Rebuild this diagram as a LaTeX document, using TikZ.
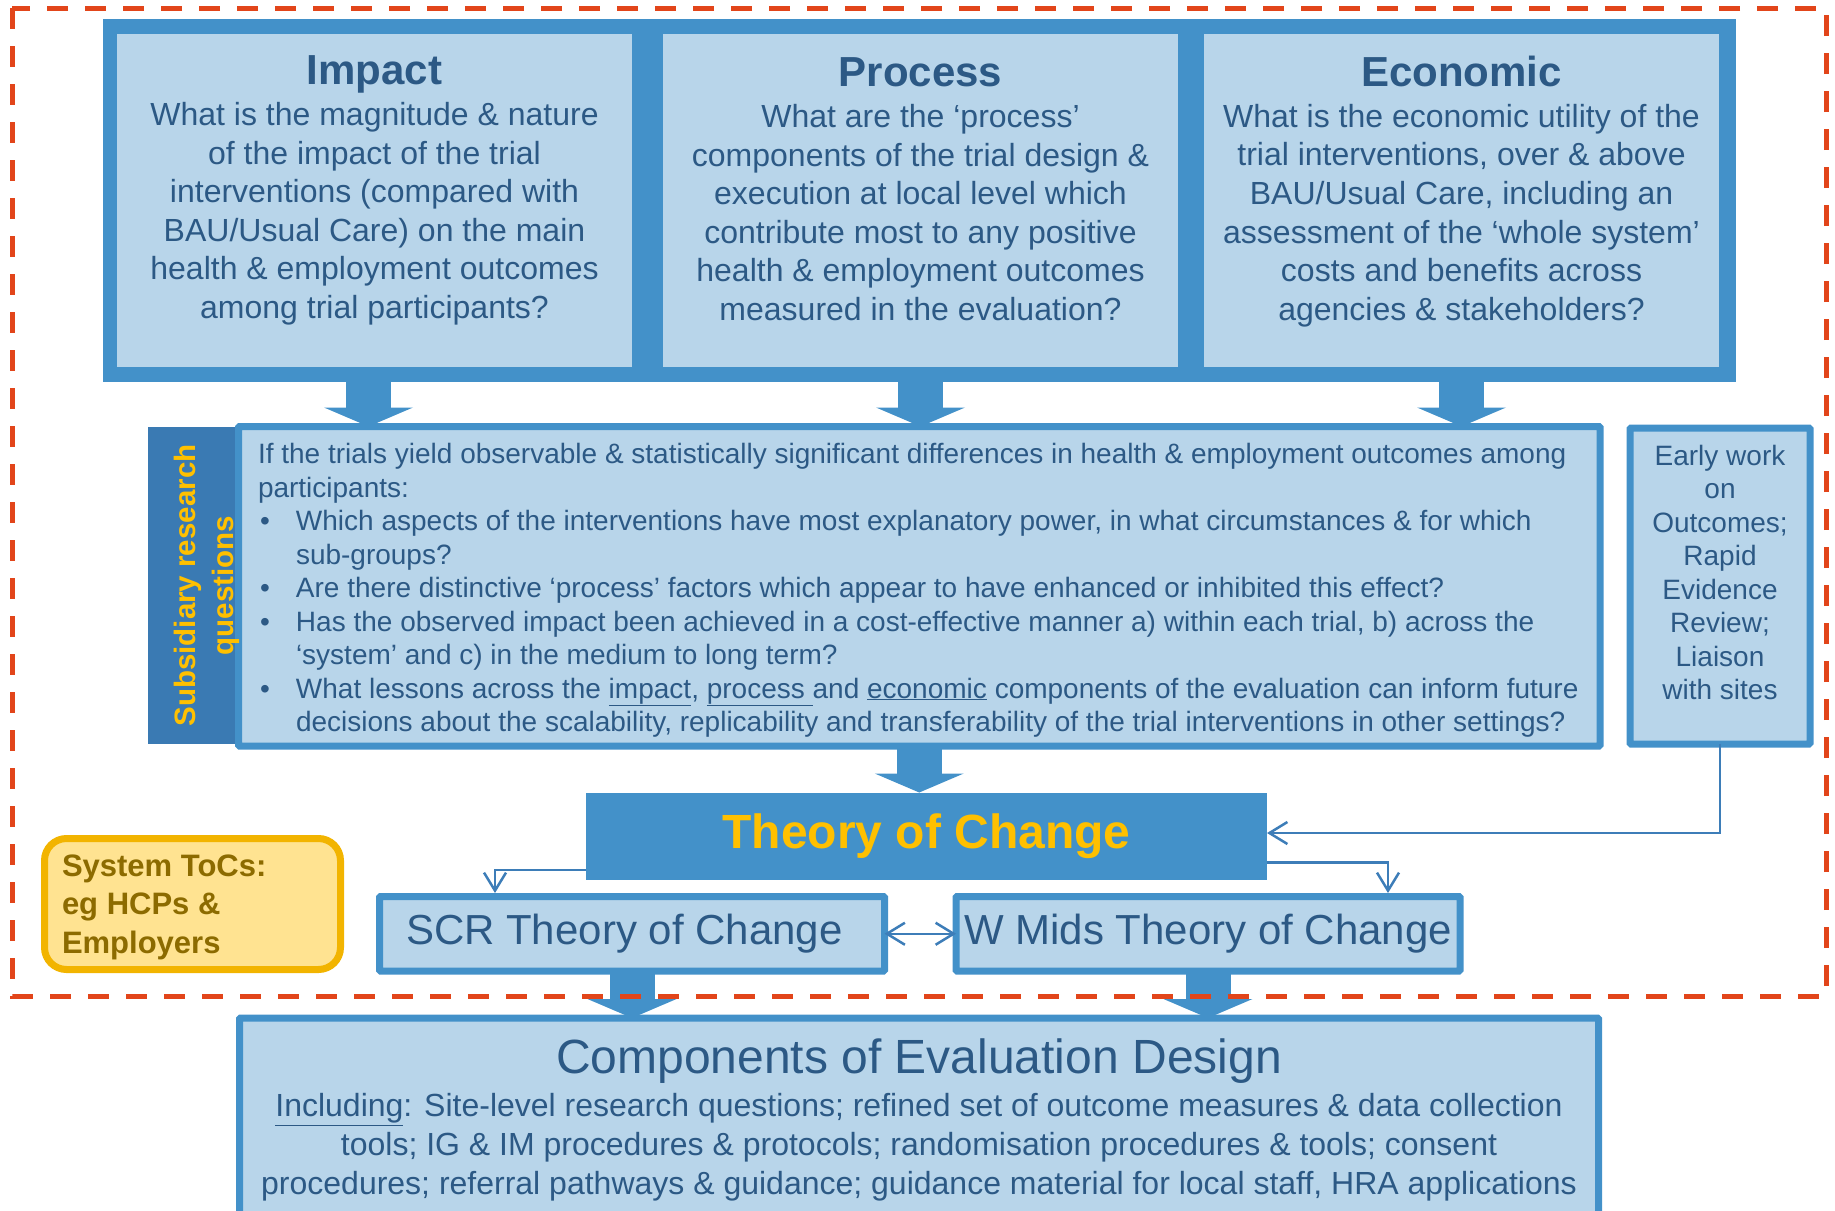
\documentclass[tikz,border=0pt]{standalone}
\usepackage{fontspec}
\setmainfont{Liberation Sans}
\usetikzlibrary{arrows.meta,calc,positioning}
\tikzset{>={Straight Barb[length=18pt,width=22pt]}}
\definecolor{boxblue}{HTML}{4391C9}
\definecolor{paleblue}{HTML}{B8D5EA}
\definecolor{sideblue}{HTML}{3A7AB3}
\definecolor{inkblue}{HTML}{2C5985}
\definecolor{linkblue}{HTML}{3D7DB8}
\definecolor{tocgold}{HTML}{FFC000}
\definecolor{dashred}{HTML}{E2451A}
\definecolor{notefill}{HTML}{FFE391}
\definecolor{noteedge}{HTML}{F2B400}
\definecolor{notetext}{HTML}{8C6B00}
\newcommand{\fs}[2]{\fontsize{#1}{#2}\selectfont}
\newcommand{\qbul}{\makebox[38pt][l]{\hspace{2pt}\textbullet}}
\newcommand{\qind}{\hspace*{38pt}}

\begin{document}
\begin{tikzpicture}[x=1pt,y=-1pt,
    lightbox/.style={draw=boxblue,line width=7pt,fill=paleblue,rounded corners=1pt},
    qtext/.style={text=inkblue,align=center,font=\fs{32}{38.6}},
    fat/.style={draw=boxblue,line width=45pt,-{Triangle[length=19pt,width=89pt,line width=0pt]}},
    link/.style={draw=linkblue,line width=2.5pt,->}]
\path[use as bounding box,clip] (0,0) rectangle (1835,1210);

% the three main questions
\begin{scope}[every node/.style={inner sep=0pt,outer sep=0pt}]
\node[fill=boxblue,minimum width=1633pt,minimum height=363pt] (trio) at (919.5,200.5) {};
\node[fill=paleblue,minimum width=515pt,minimum height=333pt] (impact) at (374.5,200.5) {};
\node[fill=paleblue,minimum width=515pt,minimum height=333pt] (process) at (920.5,200.5) {};
\node[fill=paleblue,minimum width=515pt,minimum height=333pt] (economic) at (1461.5,200.5) {};
\node[qtext] at ([yshift=10pt]impact.center) {{\fs{42}{44}\bfseries Impact}\\[2pt]
  What is the magnitude \& nature\\ of the impact of the trial\\ interventions (compared with\\
  BAU/Usual Care) on the main\\ health \& employment outcomes\\ among trial participants?};
\node[qtext] at ([yshift=11pt]process.center) {{\fs{42}{44}\bfseries Process}\\[2pt]
  What are the ‘process’\\ components of the trial design \&\\ execution at local level which\\
  contribute most to any positive\\ health \& employment outcomes\\ measured in the evaluation?};
\node[qtext] at ([yshift=9pt]economic.center) {{\fs{42}{44}\bfseries Economic}\\[2pt]
  What is the economic utility of the\\ trial interventions, over \& above\\ BAU/Usual Care, including an\\
  assessment of the ‘whole system’\\ costs and benefits across\\ agencies \& stakeholders?};
\end{scope}

% subsidiary questions and early work
\begin{scope}[every node/.style={inner sep=0pt,outer sep=0pt}]
\node[fill=sideblue,minimum width=90pt,minimum height=317pt] (side) at (193,585.5) {};
\node[lightbox,minimum width=1361.5pt,minimum height=319.5pt] (subq) at (919.25,586.25) {};
\node[text=inkblue,align=left,font=\fs{28}{33.5},anchor=west] at ([xshift=19.5pt,yshift=-4pt]subq.west)
  {If the trials yield observable \& statistically significant differences in health \& employment outcomes among\\
   participants:\\
   \qbul Which aspects of the interventions have most explanatory power, in what circumstances \& for which\\
   \qind sub-groups?\\
   \qbul Are there distinctive ‘process’ factors which appear to have enhanced or inhibited this effect?\\
   \qbul Has the observed impact been achieved in a cost-effective manner a) within each trial, b) across the\\
   \qind ‘system’ and c) in the medium to long term?\\
   \qbul What lessons across the \underline{impact}, \underline{process\ }and \underline{economic} components of the evaluation can inform future\\
   \qind decisions about the scalability, replicability and transferability of the trial interventions in other settings?};
\node[rotate=90,text=tocgold,align=center,font=\fs{29.5}{38}\bfseries] at ([xshift=14pt]side.center)
  {Subsidiary research\\ questions};
\node[lightbox,minimum width=180pt,minimum height=316pt] (early) at (1720,586) {};
\node[qtext,font=\fs{28}{33.5}] at ([yshift=13.5pt]early.center)
  {Early work\\ on\\ Outcomes;\\ Rapid\\ Evidence\\ Review;\\ Liaison\\ with sites};
\end{scope}

% theories of change
\begin{scope}[every node/.style={inner sep=0pt,outer sep=0pt}]
\node[fill=boxblue,minimum width=681pt,minimum height=87pt,text=tocgold,font=\fs{48}{50}\bfseries] (toc) at (926.5,836) {Theory of Change};
\node[lightbox,minimum width=505pt,minimum height=74.5pt,text width=452pt,inner xsep=26.5pt,align=flush left,
  text=inkblue,font=\fs{42}{44}] (scr) at (632,933.75) {SCR Theory of Change};
\node[lightbox,minimum width=504pt,minimum height=74.5pt,text=inkblue,font=\fs{42}{44}] (wmids) at (1208,933.75) {W Mids Theory of Change};
\node[draw=noteedge,line width=7pt,fill=notefill,rounded corners=22pt,minimum width=296pt,minimum height=131pt] (sys) at (192.5,904) {};
\node[text=notetext,align=flush left,font=\fs{31}{38.5}\bfseries,anchor=west] at ([xshift=17.5pt,yshift=-3pt]sys.west)
  {System ToCs:\\ eg HCPs \&\\ Employers};
\node[lightbox,minimum width=1359pt,minimum height=240pt,anchor=north] (comp) at (919,1018) {};
\node[qtext,anchor=north] at ([yshift=-21pt]comp.north) {{\fs{48}{50}Components of Evaluation Design}\\[4.5pt]
  \underline{Including}: Site-level research questions; refined set of outcome measures \& data collection\\
  tools; IG \& IM procedures \& protocols; randomisation procedures \& tools; consent\\
  procedures; referral pathways \& guidance; guidance material for local staff, HRA applications};
\end{scope}

% block arrows
\draw[fat] ($(impact.south |- trio.south)+(-6,0)$) -- ($(impact.south |- subq.north)+(-6,0)$);
\draw[fat] (process.south |- trio.south) -- (process.south |- subq.north);
\draw[fat] (economic.south |- trio.south) -- (economic.south |- subq.north);
\draw[fat] (subq.south) -- (subq.south |- toc.north);
\draw[fat] (scr.south) -- (scr.south |- comp.north);
\draw[fat] (wmids.south) -- (wmids.south |- comp.north);

% thin links
\draw[link] (early.south) |- ([yshift=3pt]toc.east);
\draw[link] ([yshift=9.5pt]toc.south west) -| ([xshift=-137pt,yshift=3.5pt]scr.north);
\draw[link] ([yshift=17pt]toc.south east) -| ([xshift=180pt,yshift=3.5pt]wmids.north);
\draw[link,<->] (scr.east) -- (wmids.west);

% dashed boundary
\draw[draw=dashred,line width=5pt,dash pattern=on 21pt off 17pt] (12,8) rectangle (1826,996);
\end{tikzpicture}
\end{document}
